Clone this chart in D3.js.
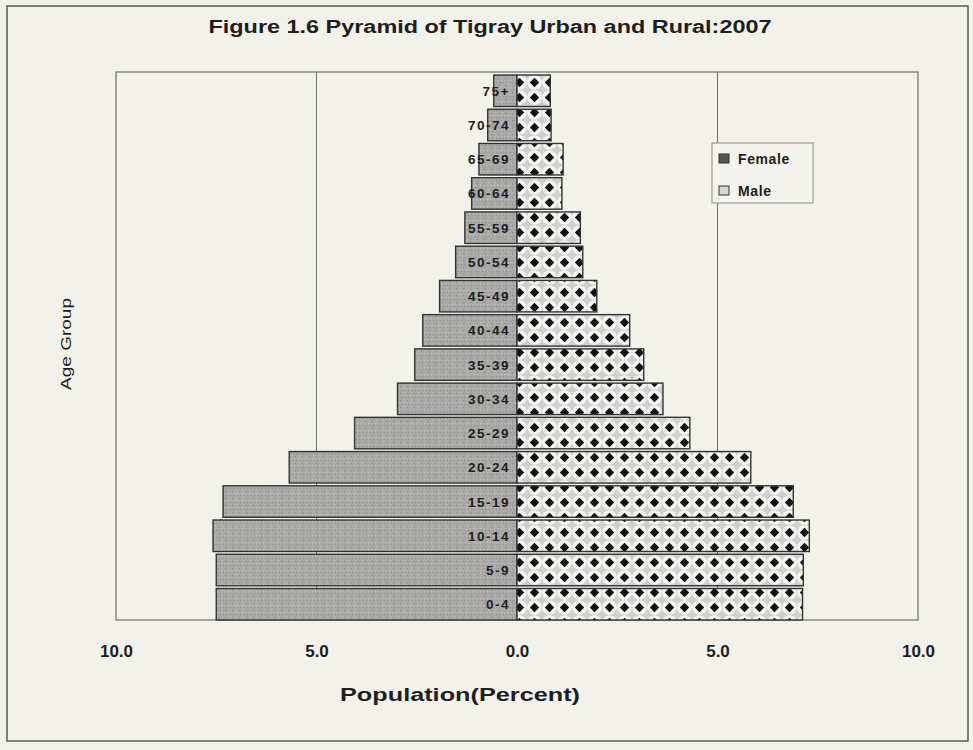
<!DOCTYPE html>
<html>
    <head>
        <title>Pyramid of Tigray</title>
        <style>
            body { margin:0; background:#f2f1ea; }
            svg text { font-family: "Liberation Sans", Arial, sans-serif; fill:#1e1e1e; }
        </style>
    </head>
    <body>
        <div id="chart"></div>
        <script src="https://d3js.org/d3.v7.min.js"></script>
        <script>
            // age groups, top to bottom
            var ages = ["75+","70-74","65-69","60-64","55-59","50-54","45-49","40-44",
                        "35-39","30-34","25-29","20-24","15-19","10-14","5-9","0-4"];
            var female = [0.58,0.73,0.95,1.13,1.30,1.53,1.93,2.35,2.55,2.98,4.05,5.68,7.33,7.58,7.50,7.50];
            var male   = [0.83,0.85,1.15,1.12,1.58,1.64,1.99,2.81,3.16,3.64,4.31,5.83,6.89,7.29,7.14,7.12];
            var ticks = [-10,-5,0,5,10];

            var W = 973, H = 750;
            var svg = d3.select("#chart").append("svg")
                .attr("width", W).attr("height", H);

            var defs = svg.append("defs");
            // speckled gray for female
            var pf = defs.append("pattern").attr("id","fem")
                .attr("patternUnits","userSpaceOnUse").attr("width",7).attr("height",7);
            pf.append("rect").attr("width",7).attr("height",7).attr("fill","#a9a9a7");
            [[1,1,"#8c8c8a"],[4,3,"#c2c2bf"],[2,5,"#939391"],[5,0,"#b8b8b5"],[6,5,"#8f8f8d"],[0,3,"#bdbdba"]]
                .forEach(function(p){
                    pf.append("rect").attr("x",p[0]).attr("y",p[1]).attr("width",1.2).attr("height",1.2).attr("fill",p[2]);
                });
            // diamond pattern for male
            var pm = defs.append("pattern").attr("id","mal")
                .attr("patternUnits","userSpaceOnUse").attr("width",15).attr("height",15)
                .attr("x",2).attr("y",0);
            pm.append("rect").attr("width",15).attr("height",15).attr("fill","#cfcfcc");
            pm.append("circle").attr("cx",7.5).attr("cy",7.5).attr("r",7.3).attr("fill","#f4f4f2");
            pm.append("path").attr("d","M7.5,2.8 L12.2,7.5 L7.5,12.2 L2.8,7.5Z").attr("fill","#111");

            // outer frame
            svg.append("rect").attr("x",7).attr("y",6).attr("width",961).attr("height",735)
                .attr("fill","none").attr("stroke","#5a5a58").attr("stroke-width",1.5);

            var x = d3.scaleLinear().domain([-10,10]).range([116,918]);
            var y = d3.scaleBand().domain(ages).range([74,621]).paddingInner(0.08).paddingOuter(0.03);
            var plotTop = 72, plotBottom = 620;

            // plot frame
            svg.append("rect").attr("x",x(-10)).attr("y",plotTop)
                .attr("width",x(10)-x(-10)).attr("height",plotBottom-plotTop)
                .attr("fill","none").attr("stroke","#6e6e6c").attr("stroke-width",1.2);

            // grid lines
            svg.selectAll(".grid").data([-5,5]).enter().append("line")
                .attr("x1",function(d){ return x(d); }).attr("x2",function(d){ return x(d); })
                .attr("y1",plotTop).attr("y2",plotBottom)
                .attr("stroke","#6e6e6c").attr("stroke-width",1);

            // bars
            svg.selectAll(".fbar").data(female).enter().append("rect")
                .attr("x",function(d){ return x(-d); })
                .attr("y",function(d,i){ return y(ages[i]); })
                .attr("width",function(d){ return x(0)-x(-d); })
                .attr("height",y.bandwidth())
                .attr("fill","url(#fem)").attr("stroke","#333").attr("stroke-width",1.4);

            svg.selectAll(".mbar").data(male).enter().append("rect")
                .attr("x",x(0))
                .attr("y",function(d,i){ return y(ages[i]); })
                .attr("width",function(d){ return x(d)-x(0); })
                .attr("height",y.bandwidth())
                .attr("fill","url(#mal)").attr("stroke","#333").attr("stroke-width",1.4);

            // age labels
            svg.selectAll(".lab").data(ages).enter().append("text")
                .attr("x",x(0)-7).attr("y",function(d){ return y(d)+y.bandwidth()/2+5; })
                .attr("text-anchor","end")
                .style("font-size","13.5px").style("font-weight","bold").style("letter-spacing","1.5px")
                .text(function(d){ return d; });

            // x axis
            var ax = svg.append("g").attr("transform","translate(0,"+plotBottom+")")
                .call(d3.axisBottom(x).tickValues(ticks).tickSize(0).tickPadding(25)
                    .tickFormat(function(d){ return Math.abs(d).toFixed(1); }));
            ax.select(".domain").remove();
            ax.selectAll("text").style("font-size","17px").style("font-weight","bold")
                .style("font-family","'Liberation Sans', Arial, sans-serif").attr("fill","#1e1e1e");

            // titles
            svg.append("text").attr("x",490).attr("y",33).attr("text-anchor","middle")
                .attr("textLength",563).attr("lengthAdjust","spacingAndGlyphs")
                .style("font-size","18px").style("font-weight","bold")
                .text("Figure 1.6 Pyramid of Tigray Urban and Rural:2007");
            svg.append("text").attr("x",460).attr("y",701).attr("text-anchor","middle")
                .attr("textLength",240).attr("lengthAdjust","spacingAndGlyphs")
                .style("font-size","19px").style("font-weight","bold")
                .text("Population(Percent)");
            svg.append("text").attr("transform","translate(71,344) rotate(-90)")
                .attr("text-anchor","middle").attr("textLength",92).attr("lengthAdjust","spacingAndGlyphs")
                .style("font-size","14px")
                .text("Age Group");

            // legend
            var lg = svg.append("g").attr("transform","translate(712,143)");
            lg.append("rect").attr("width",101).attr("height",60)
                .attr("fill","#f4f3ee").attr("stroke","#8a8a88");
            var items = [["Female","#555553"],["Male","#d6d6d3"]];
            items.forEach(function(it,i){
                lg.append("rect").attr("x",7).attr("y",11+i*32).attr("width",10).attr("height",9)
                    .attr("fill",it[1]).attr("stroke","#333").attr("stroke-width",1);
                lg.append("text").attr("x",26).attr("y",21+i*32)
                    .style("font-size","14px").style("font-weight","bold").style("letter-spacing","0.6px")
                    .text(it[0]);
            });
        </script>
    </body>
</html>
